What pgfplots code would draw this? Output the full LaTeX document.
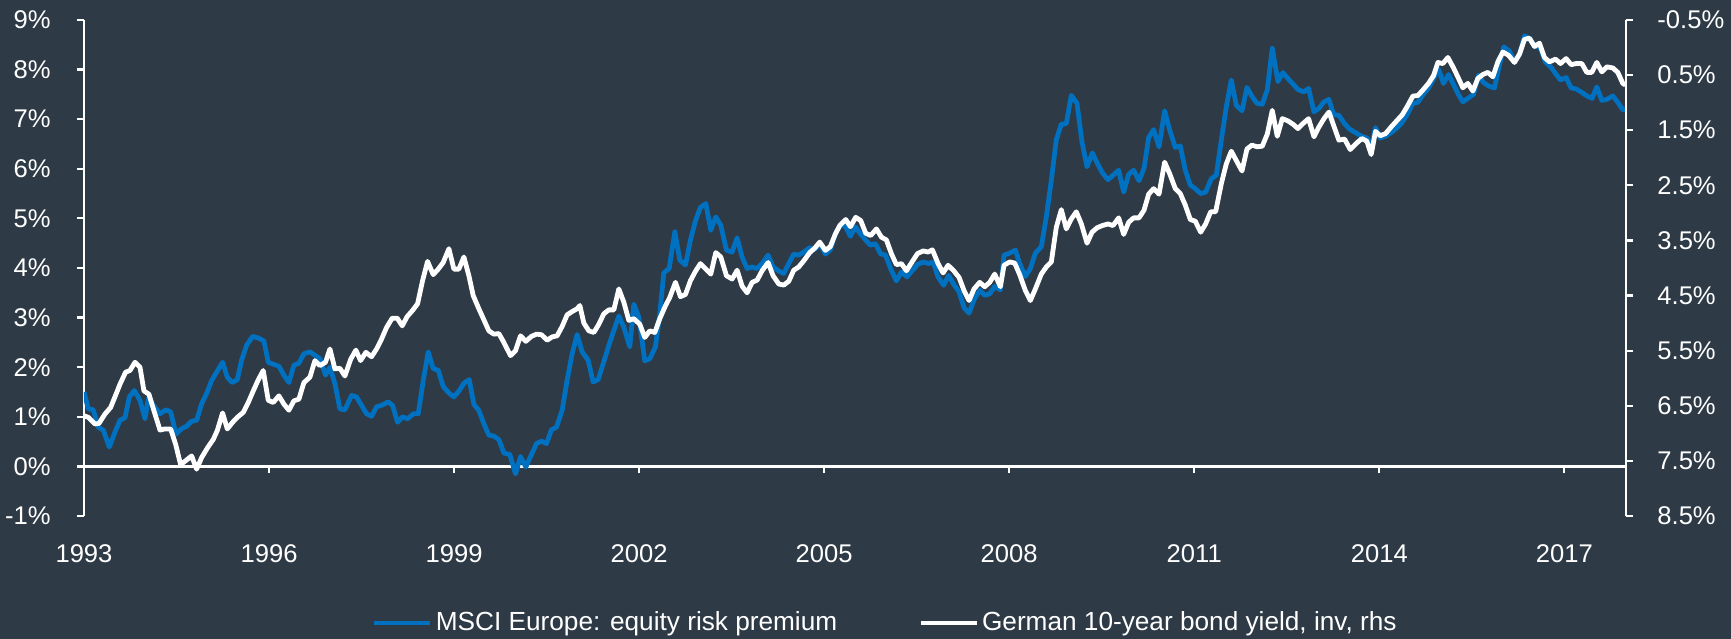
\documentclass[border=0pt]{standalone}
\usepackage{pgfplots}
\pgfplotsset{compat=1.18}
\usepackage{fontspec}
\setmainfont{Liberation Sans}
\definecolor{bg}{RGB}{46,58,70}
\definecolor{msciblue}{RGB}{0,112,192}
\begin{document}
\begin{tikzpicture}
\fill[bg] (-42bp,-61.5bp) rectangle (823.5bp,258bp);
\begin{axis}[
  at={(0,0)}, anchor=south west,
  scale only axis, width=771bp, height=248bp,
  xmin=1993, xmax=2018, ymin=-1, ymax=9,
  axis y line*=left, axis x line*=middle,
  every outer x axis line/.append style={-},
  every inner x axis line/.append style={-},
  every outer y axis line/.append style={-},
  every inner y axis line/.append style={-},
  axis line style={white, line width=1.1bp},
  tick style={white, line width=1.1bp},
  major tick length=3.5bp,
  tick align=outside,
  hide obscured x ticks=false,
  hide obscured y ticks=false,
  xtick={1993,1996,1999,2002,2005,2008,2011,2014,2017},
  xticklabels={1993,1996,1999,2002,2005,2008,2011,2014,2017},
  ytick={-1,0,1,2,3,4,5,6,7,8,9},
  yticklabels={-1\%,0\%,1\%,2\%,3\%,4\%,5\%,6\%,7\%,8\%,9\%},
  tick label style={font=\fontsize{12.8bp}{15bp}\selectfont, text=white, inner sep=0pt},
  yticklabel style={anchor=east, xshift=-13bp},
  xticklabel style={anchor=base, yshift=-44.5bp},
  legend columns=2,
  legend style={at={(0.52,-0.2157)}, anchor=center, draw=none, fill=none, text=white,
    font=\fontsize{13.1bp}{15bp}\selectfont,
    /tikz/every even column/.append style={column sep=39bp},
    nodes={inner sep=1.5bp}},
  legend image code/.code={\draw[#1] (0bp,0bp) -- (28bp,0bp);},
]
\addplot[msciblue, line width=2.4bp, line join=round] table {
1993.000 1.50
1993.070 1.16
1993.151 1.14
1993.232 0.79
1993.313 0.73
1993.411 0.39
1993.502 0.69
1993.583 0.93
1993.664 0.98
1993.735 1.40
1993.816 1.53
1993.908 1.33
1993.989 0.96
1994.043 1.37
1994.232 1.06
1994.329 1.14
1994.405 1.10
1994.491 0.65
1994.583 0.76
1994.664 0.81
1994.745 0.91
1994.826 0.93
1994.907 1.26
1994.988 1.47
1995.069 1.73
1995.150 1.90
1995.247 2.10
1995.323 1.80
1995.404 1.69
1995.485 1.75
1995.555 2.14
1995.636 2.44
1995.733 2.62
1995.825 2.59
1995.917 2.53
1995.987 2.10
1996.068 2.06
1996.160 2.02
1996.241 1.84
1996.322 1.69
1996.403 2.04
1996.484 2.08
1996.565 2.27
1996.663 2.31
1996.744 2.24
1996.825 2.17
1996.916 1.84
1996.987 2.00
1997.068 1.67
1997.149 1.16
1997.230 1.14
1997.338 1.43
1997.419 1.40
1997.500 1.23
1997.581 1.06
1997.662 1.01
1997.743 1.20
1997.824 1.23
1997.932 1.30
1998.003 1.23
1998.084 0.89
1998.165 1.00
1998.246 0.96
1998.338 1.06
1998.419 1.06
1998.500 1.73
1998.581 2.31
1998.662 1.97
1998.743 1.94
1998.824 1.61
1998.916 1.48
1998.997 1.40
1999.078 1.52
1999.164 1.68
1999.245 1.75
1999.321 1.25
1999.402 1.13
1999.483 0.86
1999.564 0.63
1999.645 0.61
1999.726 0.54
1999.807 0.27
1999.904 0.24
1999.996 -0.15
2000.077 0.20
2000.163 -0.01
2000.255 0.24
2000.336 0.46
2000.417 0.51
2000.498 0.46
2000.579 0.74
2000.660 0.79
2000.752 1.13
2000.833 1.74
2000.914 2.27
2000.995 2.66
2001.076 2.31
2001.174 2.14
2001.255 1.70
2001.336 1.75
2001.417 2.07
2001.509 2.44
2001.590 2.74
2001.671 3.03
2001.752 2.81
2001.849 2.41
2001.914 3.27
2001.995 3.01
2002.092 2.13
2002.173 2.17
2002.265 2.41
2002.335 3.08
2002.400 3.90
2002.487 3.99
2002.579 4.73
2002.660 4.16
2002.751 4.06
2002.832 4.56
2002.913 4.95
2002.994 5.22
2003.081 5.30
2003.162 4.76
2003.243 5.03
2003.324 4.86
2003.416 4.36
2003.508 4.32
2003.589 4.61
2003.670 4.22
2003.751 3.99
2003.832 4.02
2003.913 3.99
2003.994 4.09
2004.091 4.26
2004.172 4.02
2004.264 3.94
2004.345 3.89
2004.426 4.09
2004.507 4.28
2004.588 4.26
2004.669 4.32
2004.766 4.41
2004.847 4.37
2004.928 4.49
2005.020 4.28
2005.101 4.37
2005.182 4.69
2005.253 4.85
2005.334 4.86
2005.426 4.64
2005.507 4.83
2005.588 4.69
2005.669 4.57
2005.750 4.46
2005.831 4.49
2005.912 4.29
2005.993 4.26
2006.090 3.95
2006.171 3.74
2006.252 3.92
2006.344 3.82
2006.431 3.95
2006.512 4.07
2006.604 4.12
2006.695 4.09
2006.766 4.12
2006.847 3.82
2006.938 3.65
2007.019 3.85
2007.100 3.67
2007.187 3.52
2007.268 3.20
2007.349 3.09
2007.430 3.36
2007.522 3.55
2007.603 3.45
2007.684 3.48
2007.765 3.63
2007.857 3.56
2007.916 4.26
2008.008 4.30
2008.100 4.36
2008.170 4.09
2008.262 3.83
2008.343 3.99
2008.424 4.30
2008.521 4.43
2008.602 5.03
2008.683 5.77
2008.764 6.59
2008.845 6.90
2008.926 6.91
2009.007 7.48
2009.099 7.32
2009.180 6.54
2009.262 6.04
2009.348 6.32
2009.429 6.11
2009.510 5.92
2009.602 5.78
2009.683 5.87
2009.775 5.97
2009.856 5.53
2009.937 5.89
2010.018 5.97
2010.105 5.76
2010.186 6.01
2010.261 6.63
2010.342 6.79
2010.429 6.44
2010.520 7.17
2010.602 6.78
2010.693 6.43
2010.774 6.46
2010.855 5.97
2010.936 5.67
2011.017 5.60
2011.104 5.50
2011.185 5.53
2011.277 5.80
2011.358 5.87
2011.439 6.58
2011.520 7.25
2011.601 7.79
2011.682 7.28
2011.774 7.17
2011.855 7.64
2011.936 7.46
2012.017 7.32
2012.103 7.30
2012.184 7.59
2012.265 8.43
2012.357 7.76
2012.438 7.94
2012.519 7.82
2012.600 7.71
2012.681 7.60
2012.773 7.55
2012.854 7.62
2012.941 7.15
2013.022 7.22
2013.103 7.35
2013.184 7.40
2013.259 7.09
2013.345 7.08
2013.437 6.91
2013.518 6.80
2013.615 6.73
2013.707 6.66
2013.799 6.62
2013.869 6.46
2013.939 6.83
2014.015 6.62
2014.102 6.66
2014.193 6.73
2014.274 6.81
2014.355 6.91
2014.447 7.08
2014.545 7.32
2014.626 7.34
2014.707 7.49
2014.798 7.63
2014.879 7.81
2014.960 8.01
2015.041 7.72
2015.123 7.90
2015.204 7.70
2015.274 7.52
2015.355 7.35
2015.436 7.42
2015.528 7.50
2015.609 7.89
2015.690 7.74
2015.771 7.67
2015.868 7.63
2015.938 8.04
2016.019 8.46
2016.111 8.37
2016.192 8.16
2016.273 8.30
2016.354 8.68
2016.435 8.63
2016.527 8.46
2016.597 8.48
2016.689 8.16
2016.776 8.06
2016.857 7.92
2016.938 7.79
2017.029 7.84
2017.111 7.63
2017.192 7.61
2017.283 7.54
2017.364 7.47
2017.451 7.42
2017.526 7.65
2017.608 7.38
2017.689 7.40
2017.786 7.47
2017.867 7.34
2017.948 7.19
2017.991 7.19
};
\addlegendentry{MSCI Europe: equity risk premium}
\addlegendimage{white, line width=2.4bp}
\addlegendentry{German 10-year bond yield, inv, rhs}
\end{axis}
\begin{axis}[
  at={(0,0)}, anchor=south west,
  scale only axis, width=771bp, height=248bp,
  xmin=1993, xmax=2018, ymin=-0.5, ymax=8.5, y dir=reverse,
  axis y line*=right, axis x line=none, xtick=\empty,
  every outer y axis line/.append style={-},
  every inner y axis line/.append style={-},
  axis line style={white, line width=1.1bp},
  tick style={white, line width=1.1bp},
  major tick length=3.5bp,
  tick align=outside,
  ytick={-0.5,0.5,1.5,2.5,3.5,4.5,5.5,6.5,7.5,8.5},
  yticklabels={-0.5\%,0.5\%,1.5\%,2.5\%,3.5\%,4.5\%,5.5\%,6.5\%,7.5\%,8.5\%},
  tick label style={font=\fontsize{12.8bp}{15bp}\selectfont, text=white, inner sep=0pt},
  yticklabel style={anchor=west, xshift=12bp},
]
\addplot[white, line width=2.4bp, line join=round] table {
1993.000 6.68
1993.070 6.71
1993.178 6.83
1993.243 6.82
1993.340 6.65
1993.432 6.53
1993.519 6.29
1993.583 6.11
1993.675 5.89
1993.745 5.86
1993.827 5.71
1993.908 5.80
1993.972 6.23
1994.053 6.29
1994.134 6.59
1994.232 6.94
1994.313 6.92
1994.405 6.92
1994.486 7.20
1994.567 7.57
1994.745 7.41
1994.826 7.65
1994.907 7.44
1995.004 7.26
1995.096 7.11
1995.161 6.95
1995.247 6.63
1995.323 6.92
1995.409 6.80
1995.485 6.71
1995.582 6.62
1995.663 6.44
1995.744 6.23
1995.825 6.03
1995.906 5.86
1995.987 6.40
1996.068 6.44
1996.160 6.32
1996.241 6.47
1996.322 6.58
1996.403 6.41
1996.484 6.38
1996.565 6.08
1996.663 5.98
1996.744 5.68
1996.825 5.77
1996.916 5.71
1996.987 5.47
1997.068 5.83
1997.149 5.82
1997.230 5.96
1997.322 5.66
1997.408 5.49
1997.484 5.68
1997.570 5.53
1997.662 5.61
1997.743 5.47
1997.824 5.29
1997.905 5.08
1997.997 4.91
1998.078 4.91
1998.159 5.05
1998.240 4.88
1998.327 4.77
1998.408 4.65
1998.489 4.23
1998.570 3.88
1998.662 4.12
1998.743 4.02
1998.824 3.90
1998.916 3.65
1998.997 4.02
1999.078 4.02
1999.159 3.80
1999.240 4.14
1999.310 4.50
1999.402 4.74
1999.483 4.94
1999.564 5.14
1999.645 5.20
1999.726 5.19
1999.807 5.35
1999.915 5.59
1999.996 5.50
2000.077 5.23
2000.163 5.33
2000.255 5.24
2000.336 5.20
2000.417 5.21
2000.509 5.31
2000.590 5.25
2000.671 5.23
2000.752 5.06
2000.833 4.85
2000.914 4.79
2000.995 4.74
2001.039 4.68
2001.104 5.00
2001.185 5.14
2001.266 5.17
2001.347 5.02
2001.428 4.83
2001.509 4.76
2001.590 4.76
2001.671 4.38
2001.752 4.62
2001.833 4.95
2001.914 4.92
2002.011 5.02
2002.092 5.26
2002.173 5.14
2002.254 5.17
2002.335 4.92
2002.417 4.71
2002.498 4.53
2002.589 4.26
2002.670 4.52
2002.751 4.48
2002.832 4.23
2002.913 4.06
2002.994 3.92
2003.081 4.02
2003.162 4.11
2003.243 3.72
2003.324 3.80
2003.416 4.14
2003.508 4.20
2003.589 4.04
2003.670 4.33
2003.751 4.45
2003.832 4.26
2003.913 4.22
2003.994 4.05
2004.091 3.90
2004.172 4.14
2004.264 4.29
2004.345 4.31
2004.426 4.24
2004.507 4.04
2004.588 3.98
2004.669 3.87
2004.766 3.72
2004.847 3.64
2004.928 3.53
2005.020 3.68
2005.101 3.61
2005.182 3.38
2005.253 3.23
2005.350 3.12
2005.426 3.25
2005.512 3.08
2005.593 3.14
2005.674 3.37
2005.755 3.41
2005.847 3.29
2005.928 3.44
2006.009 3.49
2006.090 3.74
2006.171 3.94
2006.252 3.92
2006.333 4.05
2006.431 3.88
2006.512 3.74
2006.604 3.69
2006.685 3.71
2006.755 3.67
2006.847 3.92
2006.928 4.09
2007.009 3.95
2007.100 4.05
2007.187 4.17
2007.268 4.41
2007.349 4.59
2007.430 4.38
2007.522 4.26
2007.603 4.34
2007.684 4.26
2007.765 4.11
2007.857 4.34
2007.916 3.95
2008.008 3.89
2008.089 3.91
2008.170 4.12
2008.262 4.41
2008.343 4.59
2008.424 4.38
2008.521 4.11
2008.602 3.98
2008.683 3.89
2008.764 3.26
2008.845 2.94
2008.926 3.29
2009.007 3.11
2009.088 2.98
2009.170 3.20
2009.262 3.55
2009.343 3.35
2009.424 3.27
2009.510 3.23
2009.602 3.20
2009.683 3.23
2009.775 3.09
2009.856 3.39
2009.937 3.17
2010.018 3.09
2010.105 3.09
2010.186 2.95
2010.261 2.66
2010.342 2.56
2010.429 2.66
2010.520 2.08
2010.602 2.29
2010.693 2.56
2010.774 2.65
2010.855 2.86
2010.936 3.12
2011.017 3.15
2011.104 3.35
2011.185 3.20
2011.266 2.98
2011.347 2.98
2011.439 2.47
2011.520 2.11
2011.601 1.88
2011.682 2.05
2011.774 2.24
2011.855 1.84
2011.936 1.77
2012.017 1.80
2012.103 1.79
2012.184 1.57
2012.265 1.14
2012.346 1.61
2012.427 1.29
2012.519 1.33
2012.600 1.39
2012.681 1.47
2012.762 1.38
2012.854 1.29
2012.941 1.62
2013.022 1.44
2013.103 1.29
2013.184 1.17
2013.259 1.41
2013.345 1.68
2013.437 1.66
2013.529 1.85
2013.626 1.74
2013.718 1.65
2013.799 1.70
2013.869 1.94
2013.939 1.52
2014.015 1.60
2014.102 1.56
2014.193 1.44
2014.274 1.34
2014.372 1.22
2014.447 1.08
2014.545 0.88
2014.626 0.87
2014.707 0.77
2014.798 0.65
2014.879 0.51
2014.950 0.27
2015.031 0.29
2015.112 0.18
2015.204 0.37
2015.285 0.56
2015.355 0.73
2015.436 0.65
2015.517 0.79
2015.598 0.56
2015.679 0.49
2015.760 0.45
2015.841 0.53
2015.922 0.26
2016.003 0.08
2016.095 0.14
2016.192 0.27
2016.273 0.12
2016.354 -0.15
2016.435 -0.17
2016.516 -0.02
2016.597 -0.08
2016.678 0.18
2016.759 0.26
2016.857 0.21
2016.938 0.29
2017.029 0.20
2017.111 0.31
2017.192 0.29
2017.283 0.29
2017.364 0.45
2017.445 0.45
2017.526 0.27
2017.608 0.44
2017.689 0.35
2017.786 0.37
2017.867 0.45
2017.948 0.65
2017.991 0.68
};
\end{axis}
\pgfresetboundingbox
\useasboundingbox (-42bp,-61.5bp) rectangle (823.5bp,258bp);
\end{tikzpicture}
\end{document}
